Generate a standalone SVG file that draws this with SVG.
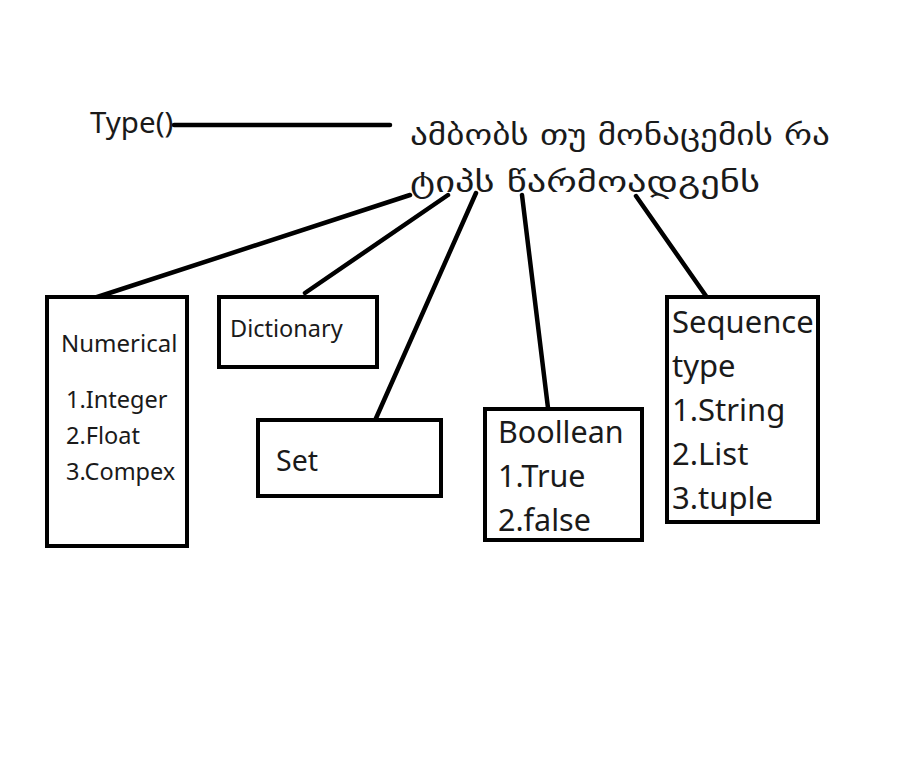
<svg xmlns="http://www.w3.org/2000/svg" width="911" height="758" viewBox="0 0 911 758">
<style>
.box{fill:#fff;stroke:#000;stroke-width:4}
.ln{stroke:#000;stroke-width:4.5;stroke-linecap:round;fill:none}
.t{font-family:"Noto Sans","Open Sans",sans-serif;fill:#1a1a1a}
.g{font-family:"DejaVu Sans","Noto Sans",sans-serif;fill:#1a1a1a;font-size:29px}
</style>
<rect width="911" height="758" fill="#fff"/>
<g id="connectors">
<line class="ln" x1="174" y1="125" x2="390" y2="125"/>
<line class="ln" x1="410" y1="195" x2="88" y2="300"/>
<line class="ln" x1="448" y1="195" x2="305" y2="293"/>
<line class="ln" x1="476" y1="193" x2="373" y2="425"/>
<line class="ln" x1="522" y1="195" x2="548" y2="408"/>
<line class="ln" x1="636" y1="196" x2="706" y2="296"/>
</g>
<g id="type">
<text class="t" x="90" y="133" font-size="29.5">Type()</text>
</g>
<g id="description">
<text class="g" x="410" y="145" textLength="420" lengthAdjust="spacingAndGlyphs">ამბობს თუ მონაცემის რა</text>
<text class="g" x="410" y="192" textLength="350" lengthAdjust="spacingAndGlyphs">ტიპს წარმოადგენს</text>
</g>
<g id="numerical">
<rect class="box" x="47" y="297" width="140" height="249"/>
<text class="t" x="61" y="352" font-size="24">Numerical</text>
<text class="t" x="66" y="408" font-size="23.5">1.Integer</text>
<text class="t" x="66" y="444" font-size="23.5">2.Float</text>
<text class="t" x="66" y="480" font-size="23.5">3.Compex</text>
</g>
<g id="dictionary">
<rect class="box" x="219" y="297" width="158" height="70"/>
<text class="t" x="230" y="337" font-size="23.5">Dictionary</text>
</g>
<g id="set">
<rect class="box" x="258" y="420" width="183" height="76"/>
<text class="t" x="276" y="471" font-size="28.5">Set</text>
</g>
<g id="boolean">
<rect class="box" x="485" y="409" width="157" height="131"/>
<text class="t" x="498" y="443" font-size="30.5">Boollean</text>
<text class="t" x="498" y="487" font-size="30.5">1.True</text>
<text class="t" x="498" y="531" font-size="30.5">2.false</text>
</g>
<g id="sequence">
<rect class="box" x="667" y="297" width="151" height="225"/>
<text class="t" x="672" y="333" font-size="31">Sequence</text>
<text class="t" x="672" y="377" font-size="31">type</text>
<text class="t" x="672" y="421" font-size="31">1.String</text>
<text class="t" x="672" y="465" font-size="31">2.List</text>
<text class="t" x="672" y="509" font-size="31">3.tuple</text>
</g>
</svg>
